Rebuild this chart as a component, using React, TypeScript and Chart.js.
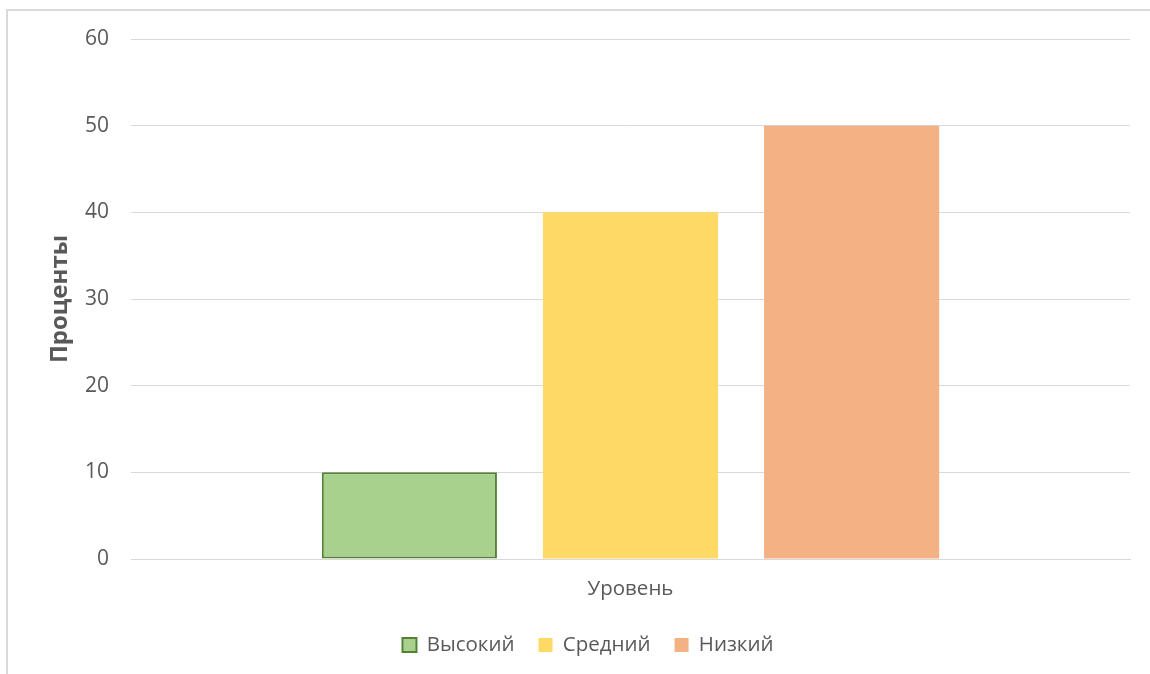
import React, { useEffect, useRef } from "react";
import { Chart, registerables } from "chart.js";

Chart.register(...registerables);

const categories = ["Уровень"];
const seriesNames = ["Высокий", "Средний", "Низкий"];
const seriesValues = [[10], [40], [50]];
const fillColors = ["#A9D18E", "#FFD966", "#F4B183"];
const borderColors = ["#548235", "#FFD966", "#F4B183"];
const borderWidths = [2, 0, 0];
const yTicks = [0, 10, 20, 30, 40, 50, 60];

const FONT = "'Open Sans', 'Noto Sans', sans-serif";

const legendShift = {
  id: "legendShift",
  afterLayout(chart: any) {
    const l = chart.legend;
    if (l) {
      l.left += 8;
      l.right += 8;
    }
  },
};

export default function App() {
  const ref = useRef<HTMLCanvasElement | null>(null);

  useEffect(() => {
    if (!ref.current) return;
    const chart = new Chart(ref.current, {
      type: "bar",
      plugins: [legendShift],
      data: {
        labels: categories,
        datasets: seriesNames.map((name, i) => ({
          label: name,
          data: seriesValues[i],
          backgroundColor: fillColors[i],
          borderColor: borderColors[i],
          borderWidth: borderWidths[i],
          borderSkipped: false,
          categoryPercentage: 0.664,
          barPercentage: 0.792,
        })),
      },
      options: {
        responsive: false,
        animation: false,
        maintainAspectRatio: false,
        layout: { padding: { left: 30, right: 20, top: 39, bottom: 8.75 } },
        plugins: {
          tooltip: { enabled: false },
          legend: {
            position: "bottom",
            labels: {
              boxWidth: 14,
              boxHeight: 14,
              padding: 24,
              color: "#595959",
              font: { family: FONT, size: 20.5 },
              generateLabels: () =>
                seriesNames.map((n, i) => ({
                  text: n,
                  fillStyle: fillColors[i],
                  strokeStyle: borderColors[i],
                  lineWidth: borderWidths[i],
                  fontColor: "#595959",
                  datasetIndex: i,
                  hidden: false,
                })),
            },
          },
        },
        scales: {
          x: {
            grid: { display: false, drawTicks: false },
            border: { display: true, color: "#d9d9d9", width: 1 },
            ticks: { display: false },
            title: {
              display: true,
              text: categories[0],
              color: "#595959",
              font: { family: FONT, size: 20.5 },
              padding: { top: 0, bottom: 9.45 },
            },
            afterFit: (axis: any) => {
              axis.height = 51.75;
            },
          },
          y: {
            min: 0,
            max: 60,
            afterBuildTicks: (axis: any) => {
              axis.ticks = yTicks.map((v) => ({ value: v }));
            },
            afterFit: (axis: any) => {
              axis.width = 101;
            },
            grid: { color: "#d9d9d9", lineWidth: 1, drawTicks: false },
            border: { display: false },
            ticks: {
              color: "#595959",
              padding: 22,
              font: { family: FONT, size: 21 },
            },
            title: {
              display: true,
              text: "Проценты",
              color: "#595959",
              font: { family: FONT, size: 24, weight: "bold" },
              padding: { top: 16, bottom: 0 },
            },
          },
        },
      },
    });
    return () => chart.destroy();
  }, []);

  return (
    <div style={{ position: "fixed", left: 0, top: 0, width: 1150, height: 674, overflow: "hidden", background: "#fff" }}>
      <div
        style={{
          position: "absolute",
          left: 6,
          top: 9,
          width: 1200,
          height: 700,
          border: "2px solid #d9d9d9",
          boxSizing: "border-box",
        }}
      />
      <canvas ref={ref} width={1150} height={674} style={{ position: "absolute", left: 0, top: 0, width: 1150, height: 674 }} />
    </div>
  );
}
